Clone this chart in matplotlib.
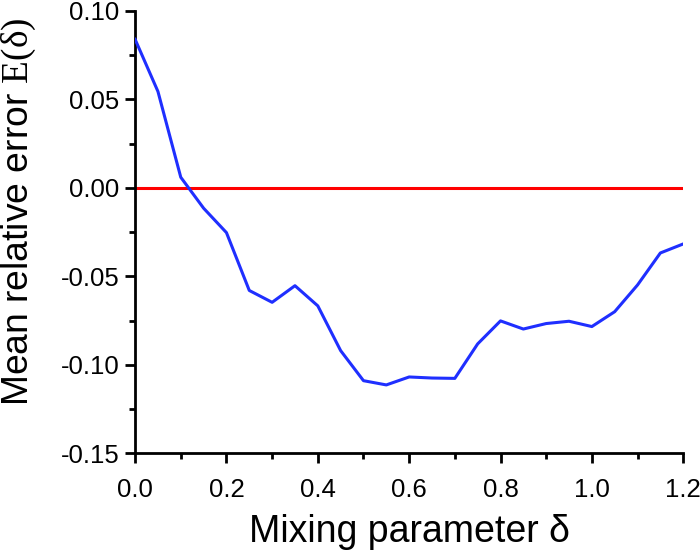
import matplotlib
matplotlib.use("Agg")
import matplotlib.pyplot as plt
from matplotlib.ticker import MultipleLocator, FormatStrFormatter

delta = [0.00, 0.05, 0.10, 0.15, 0.20, 0.25, 0.30, 0.35, 0.40, 0.45, 0.50, 0.55, 0.60,
         0.65, 0.70, 0.75, 0.80, 0.85, 0.90, 0.95, 1.00, 1.05, 1.10, 1.15, 1.20]
error = [0.084, 0.0545, 0.006, -0.0115, -0.0253, -0.058, -0.0647, -0.0553, -0.0667, -0.092,
         -0.109, -0.1114, -0.1069, -0.1075, -0.1077, -0.0882, -0.0752, -0.0798, -0.0767,
         -0.0754, -0.0784, -0.070, -0.0549, -0.0368, -0.0317]
ref_x = [0.0, 1.2]
ref_y = [0.0, 0.0]

plt.rcParams['font.family'] = ['Liberation Sans', 'DejaVu Sans']
plt.rcParams['mathtext.fontset'] = 'custom'
plt.rcParams['mathtext.rm'] = 'Liberation Serif'

fig = plt.figure(figsize=(7, 5.5), dpi=100)
ax = fig.add_axes([0.193, 0.176, 0.783, 0.804])

ax.plot(ref_x, ref_y, color='#ff0000', lw=2.2, zorder=2)
ax.plot(delta, error, color='#1f2fff', lw=2.2, zorder=3)

ax.set_xlim(0, 1.2)
ax.set_ylim(-0.15, 0.10)
ax.xaxis.set_major_locator(MultipleLocator(0.2))
ax.xaxis.set_minor_locator(MultipleLocator(0.1))
ax.yaxis.set_major_locator(MultipleLocator(0.05))
ax.yaxis.set_minor_locator(MultipleLocator(0.025))
ax.xaxis.set_major_formatter(FormatStrFormatter('%.1f'))
ax.yaxis.set_major_formatter(FormatStrFormatter('%.2f'))

for s in ['top', 'right']:
    ax.spines[s].set_visible(False)
for s in ['left', 'bottom']:
    ax.spines[s].set_linewidth(2.0)
ax.tick_params(which='major', direction='out', length=7.5, width=2.0, labelsize=18.5, pad=4)
ax.tick_params(which='minor', direction='out', length=4.5, width=2.0)
ax.tick_params(axis='x', which='major', pad=10)

ax.set_xlabel('Mixing parameter δ', fontsize=27, labelpad=9)
ax.set_ylabel(r'Mean relative error $\mathrm{E(δ)}$', fontsize=26.8)
ax.yaxis.set_label_coords(-0.178, 0.545)

fig.savefig('out.png', dpi=100)
